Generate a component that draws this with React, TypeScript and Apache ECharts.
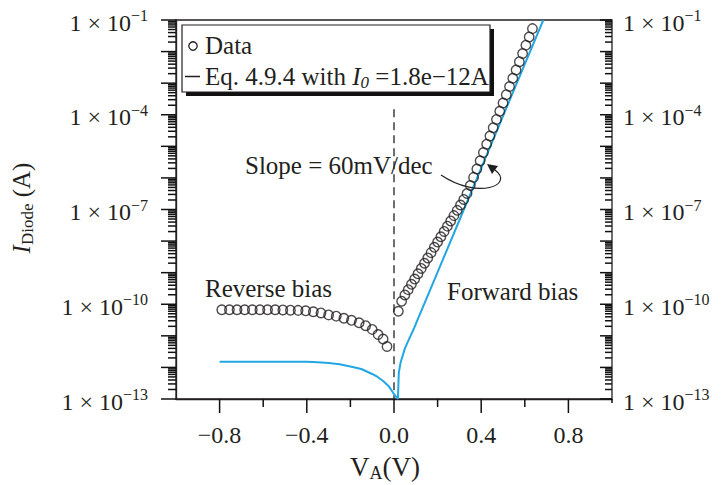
import React, { useEffect, useRef } from 'react';
import * as echarts from 'echarts';

// ---- Data ----
// Measured diode current, reverse bias (V, A)
const reverseVoltage = [-0.79, -0.755, -0.72, -0.685, -0.65, -0.615, -0.58, -0.545, -0.51, -0.475, -0.44, -0.405, -0.37, -0.335, -0.3, -0.265, -0.23, -0.195, -0.16, -0.13, -0.1, -0.073, -0.05, -0.032];
const reverseCurrent = [6.7e-11, 6.7e-11, 6.7e-11, 6.7e-11, 6.7e-11, 6.7e-11, 6.7e-11, 6.7e-11, 6.6e-11, 6.5e-11, 6.4e-11, 6.2e-11, 5.8e-11, 5.3e-11, 4.6e-11, 4.2e-11, 3.6e-11, 3.1e-11, 2.6e-11, 2.1e-11, 1.6e-11, 1.1e-11, 7.9e-12, 4.6e-12];

// Measured diode current, forward bias (V, A)
const forwardVoltage = [0.02, 0.035, 0.05, 0.065, 0.08, 0.095, 0.11, 0.125, 0.14, 0.155, 0.17, 0.185, 0.2, 0.215, 0.23, 0.245, 0.26, 0.275, 0.29, 0.305, 0.32, 0.335, 0.35, 0.365, 0.38, 0.395, 0.41, 0.425, 0.44, 0.455, 0.47, 0.485, 0.5, 0.515, 0.53, 0.545, 0.56, 0.575, 0.59, 0.605, 0.62, 0.635];
const forwardCurrent = [6.0e-11, 1.25e-10, 1.97e-10, 2.9e-10, 4.28e-10, 6.26e-10, 9.2e-10, 1.36e-9, 1.99e-9, 2.93e-9, 4.31e-9, 6.35e-9, 9.3e-9, 1.37e-8, 2.02e-8, 2.97e-8, 4.35e-8, 6.4e-8, 9.4e-8, 1.39e-7, 2.08e-7, 3.22e-7, 5.74e-7, 1.04e-6, 1.92e-6, 3.49e-6, 6.35e-6, 1.17e-5, 2.12e-5, 3.86e-5, 7.1e-5, 1.29e-4, 2.35e-4, 4.31e-4, 7.85e-4, 1.43e-3, 2.62e-3, 4.78e-3, 8.7e-3, 1.6e-2, 2.91e-2, 5.33e-2];

// Eq. 4.9.4 curve (|I| vs V) as drawn
const modelVoltage = [-0.8, -0.6, -0.4, -0.35, -0.3, -0.25, -0.2, -0.15, -0.1, -0.075, -0.05, -0.025, -0.005, 0.018, 0.022, 0.03, 0.05, 0.07, 0.092, 0.2, 0.3, 0.4, 0.5, 0.6, 0.685];
const modelCurrent = [1.5e-12, 1.5e-12, 1.5e-12, 1.45e-12, 1.38e-12, 1.26e-12, 1.07e-12, 8.9e-13, 6.2e-13, 5.0e-13, 3.7e-13, 2.6e-13, 1.6e-13, 1.0e-13, 6.8e-13, 1.4e-12, 4.0e-12, 8.2e-12, 1.74e-11, 1.04e-9, 4.57e-8, 2.03e-6, 9.0e-5, 3.98e-3, 1.0e-1];

// Dashed marker at V = 0
const zeroLineVoltage = [0, 0];
const zeroLineCurrent = [1.5e-4, 1e-13];

// Axes
const xMin = -1;
const xMax = 1;
const yExponentMin = -13;
const yExponentMax = -1;
const yLabelExponents = [-13, -10, -7, -4, -1];
const minorFactors = [2, 3, 4, 5, 6, 7, 8, 9];
const xMajorTicks = [-0.8, -0.4, 0, 0.4, 0.8];
const xMinorTicks = [-0.6, -0.2, 0.2, 0.6];

const FONT = "'Liberation Serif', 'Times New Roman', serif";
const INK = '#231f20';
const BLUE = '#22a7e3';

const GRID = { left: 176, right: 109, top: 20, bottom: 86 };

const log10 = (v: number) => Math.log10(v);
const zipLog = (xs: number[], ys: number[]) => xs.map((x, i) => [x, log10(ys[i])]);
const yLabelText = (e: number) => `{a|1 \u00d7 10}{b|\u2212${Math.abs(e)}}`;

const textEl = (text: string, x: number, y: number, extra: any = {}) => ({
  type: 'text',
  x,
  y,
  z: 110,
  style: {
    text,
    fontSize: 25,
    fontFamily: FONT,
    fill: INK,
    align: 'left',
    verticalAlign: 'middle',
    ...extra,
  },
});

function staticGraphics(): any[] {
  return [
    // legend box with drop shadow
    { type: 'rect', z: 100, shape: { x: 186, y: 29, width: 308, height: 67 }, style: { fill: '#111' } },
    { type: 'rect', z: 101, shape: { x: 182, y: 25, width: 308, height: 67 }, style: { fill: '#fff', stroke: INK, lineWidth: 1.2 } },
    { type: 'circle', z: 110, shape: { cx: 193, cy: 46, r: 4.2 }, style: { fill: 'none', stroke: INK, lineWidth: 1.3 } },
    textEl('Data', 205, 45),
    { type: 'line', z: 110, shape: { x1: 185, y1: 76.5, x2: 200, y2: 76.5 }, style: { stroke: INK, lineWidth: 1.5 } },
    textEl('{n|Eq. 4.9.4 with }{i|I}{s|0}{n| =1.8e\u221212A}', 205, 76, {
      rich: {
        n: { fontSize: 25, fontFamily: FONT, fill: INK, lineHeight: 30 },
        i: { fontSize: 25, fontFamily: FONT, fill: INK, fontStyle: 'italic', lineHeight: 30 },
        s: { fontSize: 17, fontFamily: FONT, fill: INK, fontStyle: 'italic', lineHeight: 22, verticalAlign: 'bottom' },
      },
    }),
    // annotations
    textEl('Slope = 60mV/dec', 245, 165),
    textEl('Reverse bias', 205, 288),
    textEl('Forward bias', 447, 291),
    {
      type: 'bezierCurve',
      z: 110,
      shape: { x1: 441, y1: 175, cpx1: 478, cpy1: 200, cpx2: 515, cpy2: 185, x2: 495, y2: 170 },
      style: { stroke: INK, lineWidth: 1.2, fill: 'none' },
    },
    {
      type: 'polygon',
      z: 110,
      shape: { points: [[487, 164], [498, 166], [492, 174]] },
      style: { fill: INK },
    },
    // axis titles
    {
      type: 'text',
      x: 21,
      y: 208,
      rotation: Math.PI / 2,
      z: 110,
      style: {
        text: '{i|I}{s|Diode}{n| (A)}',
        align: 'center',
        verticalAlign: 'middle',
        rich: {
          i: { fontSize: 25, fontFamily: FONT, fill: INK, fontStyle: 'italic', lineHeight: 30 },
          s: { fontSize: 17, fontFamily: FONT, fill: INK, lineHeight: 18, verticalAlign: 'bottom' },
          n: { fontSize: 25, fontFamily: FONT, fill: INK, lineHeight: 30 },
        },
      },
    },
    {
      type: 'text',
      x: 385,
      y: 467,
      z: 110,
      style: {
        text: '{n|V}{s|A}{n|(V)}',
        align: 'center',
        verticalAlign: 'middle',
        rich: {
          n: { fontSize: 27, fontFamily: FONT, fill: INK, lineHeight: 30 },
          s: { fontSize: 18, fontFamily: FONT, fill: INK, lineHeight: 20, verticalAlign: 'bottom' },
        },
      },
    },
  ];
}

// Ticks (as thin filled bars) and right-hand labels placed through the chart's own axis scales
function axisGraphics(chart: echarts.ECharts): any[] {
  let px = (x: number, y: number) => chart.convertToPixel({ gridIndex: 0 } as any, [x, y]) as number[];
  try {
    const test = px(xMin, yExponentMin);
    if (!test || !isFinite(test[0]) || !isFinite(test[1])) throw new Error('no px');
  } catch (e) {
    const w = chart.getWidth() - GRID.left - GRID.right;
    const h = chart.getHeight() - GRID.top - GRID.bottom;
    px = (x: number, y: number) => [
      GRID.left + ((x - xMin) / (xMax - xMin)) * w,
      GRID.top + ((yExponentMax - y) / (yExponentMax - yExponentMin)) * h,
    ];
  }
  const out: any[] = [];
  const T = 1.5;
  const hbar = (xFrom: number, xTo: number, y: number) =>
    out.push({ type: 'rect', z: 120, shape: { x: Math.min(xFrom, xTo), y: y - T / 2, width: Math.abs(xTo - xFrom), height: T }, style: { fill: '#111' } });
  const vbar = (x: number, yFrom: number, yTo: number) =>
    out.push({ type: 'rect', z: 120, shape: { x: x - T / 2, y: Math.min(yFrom, yTo), width: T, height: Math.abs(yTo - yFrom) }, style: { fill: '#111' } });

  for (let e = yExponentMin; e <= yExponentMax; e++) {
    const l = px(xMin, e);
    const r = px(xMax, e);
    hbar(l[0] - 15, l[0], l[1]);
    hbar(r[0] - 12, r[0], r[1]);
    if (e < yExponentMax) {
      for (const m of minorFactors) {
        const v = e + log10(m);
        const lm = px(xMin, v);
        const rm = px(xMax, v);
        hbar(lm[0] - 8, lm[0], lm[1]);
        hbar(rm[0] - 7, rm[0], rm[1]);
      }
    }
  }
  for (const t of xMajorTicks) {
    const p = px(t, yExponentMin);
    vbar(p[0], p[1], p[1] + 14);
  }
  for (const t of xMinorTicks) {
    const p = px(t, yExponentMin);
    vbar(p[0], p[1], p[1] + 8);
  }
  const br = px(xMax, yExponentMin);
  vbar(br[0], br[1], br[1] + 4);

  // right-hand tick labels
  for (const e of yLabelExponents) {
    const r = px(xMax, e);
    out.push({
      type: 'text',
      x: r[0] + 11,
      y: r[1] + 2.5,
      z: 60,
      style: {
        text: yLabelText(e),
        align: 'left',
        verticalAlign: 'middle',
        rich: {
          a: { fontSize: 24, fontFamily: FONT, fill: INK, lineHeight: 30 },
          b: { fontSize: 16, fontFamily: FONT, fill: INK, lineHeight: 16, verticalAlign: 'top' },
        },
      },
    });
  }
  return out;
}

function buildOption() {
  const scatterData = [...zipLog(reverseVoltage, reverseCurrent), ...zipLog(forwardVoltage, forwardCurrent)];
  const modelData = zipLog(modelVoltage, modelCurrent);
  const zeroData = zipLog(zeroLineVoltage, zeroLineCurrent);

  const yLabel = (v: number) => {
    const e = Math.round(v);
    return yLabelExponents.includes(e) ? yLabelText(e) : '';
  };
  const axisLineStyle = { color: INK, width: 1.3 };

  const xLabel = (v: number) => {
    const r = Math.round(v * 10) / 10;
    if (r === 0) return '0.0';
    return (r < 0 ? '\u2212' : '') + Math.abs(r).toFixed(1);
  };

  return {
    animation: false,
    grid: {
      ...GRID,
      show: true,
      borderColor: INK,
      borderWidth: 1.3,
    },
    xAxis: {
      type: 'value',
      min: xMin,
      max: xMax,
      axisLine: { show: true, onZero: false, lineStyle: axisLineStyle },
      axisTick: { show: false },
      axisLabel: {
        show: true,
        customValues: xMajorTicks,
        formatter: xLabel,
        margin: 24,
        fontSize: 24,
        fontFamily: FONT,
        color: INK,
      },
      splitLine: { show: false },
    },
    yAxis: {
      type: 'value',
      min: yExponentMin,
      max: yExponentMax,
      interval: 1,
      axisLine: { show: true, onZero: false, lineStyle: axisLineStyle },
      axisTick: { show: false },
      axisLabel: {
        formatter: yLabel,
        rich: {
          a: { fontSize: 24, fontFamily: FONT, color: INK, lineHeight: 30 },
          b: { fontSize: 16, fontFamily: FONT, color: INK, lineHeight: 16, verticalAlign: 'top' },
        },
        margin: 28,
        padding: [5, 0, 0, 0],
        showMinLabel: true,
        showMaxLabel: true,
      },
      splitLine: { show: false },
    },
    series: [
      {
        name: 'V = 0',
        type: 'line',
        data: zeroData,
        symbol: 'none',
        silent: true,
        lineStyle: { color: INK, width: 1.3, type: [8, 5] },
        z: 1,
      },
      {
        name: 'Eq. 4.9.4 with I0 = 1.8e-12 A',
        type: 'line',
        data: modelData,
        symbol: 'none',
        showSymbol: false,
        smooth: false,
        lineStyle: { color: BLUE, width: 2 },
        z: 2,
      },
      {
        name: 'Data',
        type: 'scatter',
        data: scatterData,
        symbol: 'circle',
        symbolSize: 9.5,
        itemStyle: { color: 'rgba(255,255,255,0)', borderColor: INK, borderWidth: 1.4 },
        z: 3,
      },
    ],
  };
}

export default function App() {
  const ref = useRef<HTMLDivElement>(null);
  useEffect(() => {
    if (!ref.current) return;
    const chart = echarts.init(ref.current, null, { renderer: 'svg' });
    chart.setOption(buildOption() as any);
    let extra: any[] = [];
    try {
      extra = axisGraphics(chart);
    } catch (e) {
      extra = [];
    }
    chart.setOption({ graphic: [...staticGraphics(), ...extra] } as any);
    return () => {
      chart.dispose();
    };
  }, []);
  return (
    <div
      ref={ref}
      style={{ position: 'fixed', left: 0, top: 0, width: 721, height: 485, background: '#fff' }}
    />
  );
}
